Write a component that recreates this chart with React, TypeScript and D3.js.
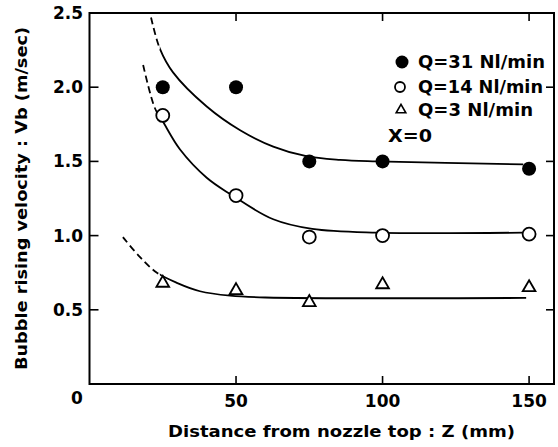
import React, { useEffect, useRef } from "react";
import * as d3 from "d3";

// measured points
const distances = [25, 50, 75, 100, 150];
const velQ31 = [2.0, 2.0, 1.5, 1.5, 1.45];
const velQ14 = [1.81, 1.27, 0.99, 1.0, 1.01];
const velQ3 = [0.68, 0.63, 0.55, 0.67, 0.65];

// fitted curves: [Z, Vb]; dashed below the given Z
const fitQ31 = [[21, 2.47], [24, 2.26], [28.5, 2.1], [40, 1.87], [51.4, 1.71], [62.7, 1.6], [74, 1.535], [85.5, 1.51], [98, 1.5], [148, 1.48]];
const fitQ14 = [[18.3, 2.15], [22.3, 1.86], [25, 1.77], [30.9, 1.58], [40, 1.39], [48, 1.28], [62.7, 1.11], [76, 1.045], [98, 1.02], [148, 1.02]];
const fitQ3 = [[11.4, 0.99], [17, 0.86], [23, 0.75], [30, 0.68], [37.7, 0.625], [48, 0.595], [60, 0.583], [149, 0.58]];
const dashEnd = [24, 23, 24];

const xTicks = [50, 100, 150];
const yTicks = [0.5, 1.0, 1.5, 2.0, 2.5];
const legendLabels = ["Q=31 Nl/min", "Q=14 Nl/min", "Q=3 Nl/min"];

const FONT = "DejaVu Sans, sans-serif";

const App = () => {
  const ref = useRef<SVGSVGElement>(null);

  useEffect(() => {
    const svg = d3.select(ref.current);
    svg.selectAll("*").remove();

    const x = d3.scaleLinear().domain([0, 158.5]).range([89.5, 554]);
    const y = d3.scaleLinear().domain([0, 2.5]).range([384, 13]);
    const [x0, x1] = x.range();
    const [y0, y1] = y.range();

    // frame
    svg.append("rect")
      .attr("x", x0).attr("y", y1)
      .attr("width", x1 - x0).attr("height", y0 - y1)
      .attr("fill", "none").attr("stroke", "#000").attr("stroke-width", 2);

    // inward ticks
    const tk = svg.append("g").attr("stroke", "#000").attr("stroke-width", 1.6);
    xTicks.forEach((t) => {
      tk.append("line").attr("x1", x(t)).attr("x2", x(t)).attr("y1", y0).attr("y2", y0 - 8);
      tk.append("line").attr("x1", x(t)).attr("x2", x(t)).attr("y1", y1).attr("y2", y1 + 8);
    });
    yTicks.filter((t) => t < 2.5).forEach((t) => {
      tk.append("line").attr("x1", x0).attr("x2", x0 + 9).attr("y1", y(t)).attr("y2", y(t));
      tk.append("line").attr("x1", x1).attr("x2", x1 - 8).attr("y1", y(t)).attr("y2", y(t));
    });

    // tick labels
    const lab = svg.append("g").attr("font-family", FONT).attr("font-weight", "bold")
      .attr("font-size", 17).attr("fill", "#000");
    xTicks.forEach((t) => {
      lab.append("text").attr("x", x(t)).attr("y", 407).attr("text-anchor", "middle").text(t);
    });
    lab.append("text").attr("x", 77).attr("y", 404).attr("text-anchor", "middle").text("0");
    yTicks.forEach((t) => {
      lab.append("text").attr("x", 83).attr("y", y(t) + 6).attr("text-anchor", "end").text(t.toFixed(1));
    });

    // axis titles
    svg.append("text")
      .attr("x", 168).attr("y", 437)
      .attr("font-family", FONT).attr("font-weight", "bold").attr("font-size", 16)
      .attr("textLength", 347).attr("lengthAdjust", "spacingAndGlyphs")
      .text("Distance from nozzle top : Z (mm)");
    svg.append("text")
      .attr("transform", "translate(27,370) rotate(-90)")
      .attr("font-family", FONT).attr("font-weight", "bold").attr("font-size", 16)
      .attr("textLength", 343).attr("lengthAdjust", "spacingAndGlyphs")
      .text("Bubble rising velocity : Vb (m/sec)");

    // curves: one smooth path each, clipped into a dashed head and a solid body
    const line = d3.line<number[]>()
      .x((d) => x(d[0]))
      .y((d) => y(d[1]))
      .curve(d3.curveCatmullRom.alpha(0.5));
    const defs = svg.append("defs");
    const curves = svg.append("g").attr("fill", "none").attr("stroke", "#000").attr("stroke-width", 1.8);
    [fitQ31, fitQ14, fitQ3].forEach((c, i) => {
      const cut = x(dashEnd[i]);
      defs.append("clipPath").attr("id", `head${i}`)
        .append("rect").attr("x", 0).attr("y", 0).attr("width", cut).attr("height", 447);
      defs.append("clipPath").attr("id", `body${i}`)
        .append("rect").attr("x", cut).attr("y", 0).attr("width", 558 - cut).attr("height", 447);
      curves.append("path").attr("d", line(c)).attr("stroke-dasharray", "7,4")
        .attr("clip-path", `url(#head${i})`);
      curves.append("path").attr("d", line(c)).attr("clip-path", `url(#body${i})`);
    });

    // markers
    const tri = d3.symbol().type(d3.symbolTriangle).size(70);
    const mk = svg.append("g");
    distances.forEach((d, i) => {
      mk.append("circle").attr("cx", x(d)).attr("cy", y(velQ31[i])).attr("r", 7).attr("fill", "#000");
      mk.append("circle").attr("cx", x(d)).attr("cy", y(velQ14[i])).attr("r", 6.5)
        .attr("fill", "#fff").attr("stroke", "#000").attr("stroke-width", 1.8);
      mk.append("path").attr("d", tri())
        .attr("transform", `translate(${x(d)},${y(velQ3[i])})`)
        .attr("fill", "#fff").attr("stroke", "#000").attr("stroke-width", 1.8);
    });

    // legend
    const lg = svg.append("g").attr("font-family", FONT).attr("font-weight", "bold").attr("font-size", 17);
    const rows = [62, 87, 110];
    lg.append("circle").attr("cx", 402).attr("cy", rows[0]).attr("r", 6.5).attr("fill", "#000");
    lg.append("circle").attr("cx", 400).attr("cy", rows[1]).attr("r", 5)
      .attr("fill", "#fff").attr("stroke", "#000").attr("stroke-width", 1.8);
    lg.append("path").attr("d", d3.symbol().type(d3.symbolTriangle).size(40)())
      .attr("transform", `translate(401,${rows[2]})`)
      .attr("fill", "#fff").attr("stroke", "#000").attr("stroke-width", 1.6);
    const widths = [127, 125, 115];
    legendLabels.forEach((t, i) => {
      lg.append("text").attr("x", 418).attr("y", rows[i] + 6)
        .attr("textLength", widths[i]).attr("lengthAdjust", "spacingAndGlyphs").text(t);
    });
    lg.append("text").attr("x", 388).attr("y", 142)
      .attr("textLength", 44).attr("lengthAdjust", "spacingAndGlyphs").text("X=0");
  }, []);

  return (
    <svg
      ref={ref}
      width={558}
      height={447}
      style={{ position: "absolute", left: 0, top: 0, background: "#fff" }}
    />
  );
};

export default App;
